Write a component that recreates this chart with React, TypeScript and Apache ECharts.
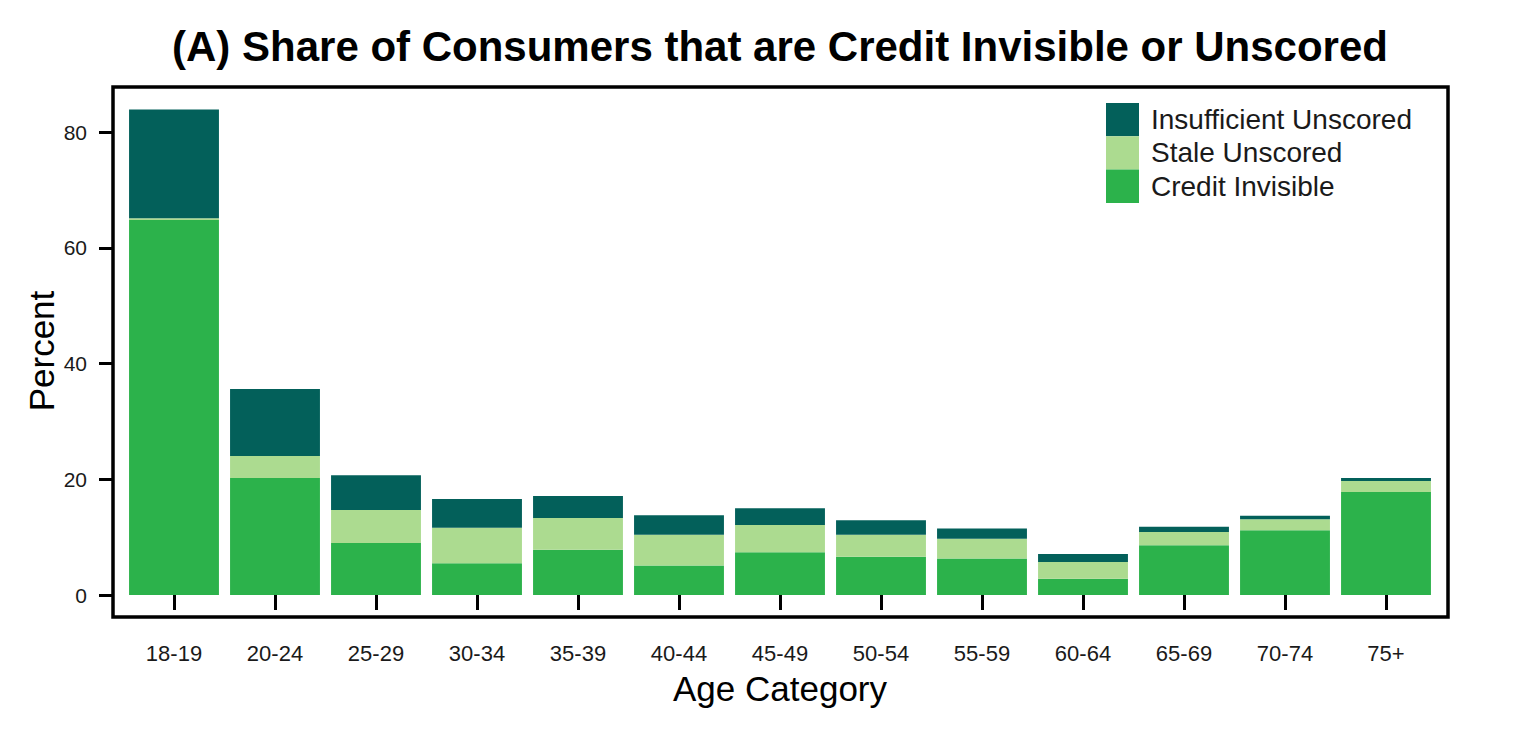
import React, { useEffect, useRef } from "react";
import * as echarts from "echarts";

const categories = ["18-19", "20-24", "25-29", "30-34", "35-39", "40-44", "45-49", "50-54", "55-59", "60-64", "65-69", "70-74", "75+"];
const creditInvisible = [64.8, 20.2, 9.0, 5.5, 7.8, 5.1, 7.4, 6.6, 6.3, 2.8, 8.6, 11.2, 17.8];
const staleUnscored = [0.3, 3.8, 5.7, 6.1, 5.5, 5.3, 4.7, 3.8, 3.4, 2.9, 2.3, 1.9, 1.9];
const insufficientUnscored = [18.8, 11.6, 6.0, 5.0, 3.8, 3.4, 2.9, 2.5, 1.8, 1.4, 0.9, 0.6, 0.5];
const yTicks = [0, 20, 40, 60, 80];

const FONT = "'Liberation Sans', Arial, Helvetica, sans-serif";
const C_INS = "#03605a";
const C_STALE = "#acdb90";
const C_CI = "#2cb24b";

export default function App() {
  const ref = useRef<HTMLDivElement>(null);
  useEffect(() => {
    if (!ref.current) return;
    const chart = echarts.init(ref.current, null, { renderer: "svg" });
    const barBase = {
      type: "bar",
      stack: "total",
      barCategoryGap: "11%",
      clip: false,
      emphasis: { disabled: true },
    };
    chart.setOption({
      animation: false,
      backgroundColor: "#ffffff",
      textStyle: { fontFamily: FONT },
      grid: { left: 123.5, right: 99.5, top: 132, bottom: 143, containLabel: false },
      legend: {
        orient: "vertical",
        left: 1106,
        top: 103,
        padding: 0,
        itemWidth: 33,
        itemHeight: 33.3,
        itemGap: 0,
        icon: "rect",
        data: ["Insufficient Unscored", "Stale Unscored", "Credit Invisible"],
        textStyle: { fontSize: 28, color: "#1a1a1a", fontFamily: FONT, padding: [0, 0, 0, 7] },
        selectedMode: false,
      },
      xAxis: {
        type: "category",
        data: categories,
        offset: 22,
        axisLine: { show: false },
        axisTick: { show: true, alignWithLabel: true, length: 15, lineStyle: { color: "#000", width: 3 } },
        axisLabel: { fontSize: 22, color: "#1a1a1a", margin: 25, fontFamily: FONT },
        splitLine: { show: false },
      },
      yAxis: {
        type: "value",
        min: yTicks[0],
        max: yTicks[yTicks.length - 1],
        interval: 20,
        offset: 10.5,
        axisLine: { show: false },
        axisTick: { show: true, length: 14, lineStyle: { color: "#000", width: 3 } },
        axisLabel: { fontSize: 21, color: "#1a1a1a", margin: 26, fontFamily: FONT },
        splitLine: { show: false },
      },
      series: [
        { ...barBase, name: "Credit Invisible", data: creditInvisible, itemStyle: { color: C_CI } },
        { ...barBase, name: "Stale Unscored", data: staleUnscored, itemStyle: { color: C_STALE } },
        { ...barBase, name: "Insufficient Unscored", data: insufficientUnscored, itemStyle: { color: C_INS } },
      ],
      graphic: [
        {
          type: "rect",
          shape: { x: 113, y: 87, width: 1335, height: 530 },
          style: { fill: "none", stroke: "#000", lineWidth: 3.5 },
          z: 100,
        },
        {
          type: "text",
          x: 780,
          y: 46,
          style: {
            text: "(A) Share of Consumers that are Credit Invisible or Unscored",
            fontSize: 42,
            fontWeight: "bold",
            fontFamily: FONT,
            fill: "#000",
            textAlign: "center",
            textVerticalAlign: "middle",
          },
        },
        {
          type: "text",
          x: 41,
          y: 351,
          rotation: Math.PI / 2,
          style: {
            text: "Percent",
            fontSize: 35,
            fontFamily: FONT,
            fill: "#000",
            textAlign: "center",
            textVerticalAlign: "middle",
          },
        },
        {
          type: "text",
          x: 780,
          y: 688,
          style: {
            text: "Age Category",
            fontSize: 35,
            fontFamily: FONT,
            fill: "#000",
            textAlign: "center",
            textVerticalAlign: "middle",
          },
        },
      ],
    });
    return () => chart.dispose();
  }, []);
  return (
    <div
      ref={ref}
      style={{ position: "fixed", left: 0, top: 0, width: 1536, height: 738, background: "#fff" }}
    />
  );
}
